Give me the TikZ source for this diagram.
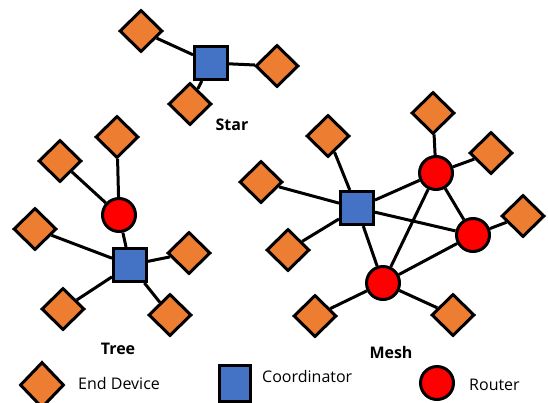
\documentclass[tikz,border=0pt]{standalone}
\usepackage{fontspec}
\setmainfont{Open Sans}
\usetikzlibrary{shapes.geometric}
\definecolor{devorange}{HTML}{ED7D31}
\definecolor{coordblue}{HTML}{4472C4}
\definecolor{routerred}{HTML}{FF0000}
\tikzset{
  enddev/.style={diamond, draw=black, fill=devorange, line width=3pt, minimum width=43pt, minimum height=42pt, inner sep=0pt},
  coord/.style={rectangle, draw=black, fill=coordblue, line width=3pt, minimum size=33pt, inner sep=0pt},
  router/.style={circle, draw=black, fill=routerred, line width=3pt, minimum size=33pt, inner sep=0pt},
  link/.style={line width=3pt, draw=black},
  title/.style={font=\fontsize{16}{18}\selectfont\bfseries, inner sep=0pt},
  legend/.style={font=\fontsize{16}{18}\selectfont, inner sep=0pt, anchor=west},
}
\begin{document}
\begin{tikzpicture}[x=1pt,y=-1pt]
\useasboundingbox (0,0) rectangle (548,402);
% Star
\node[coord] (sc) at (211,63) {};
\node[enddev] (s1) at (141,31) {};
\node[enddev] (s2) at (277,66) {};
\node[enddev] (s3) at (190,104) {};
\node[title] (stl) at (232,125) {Star};
% Tree
\node[coord] (tc) at (130,265) {};
\node[router] (tr) at (119,215) {};
\node[enddev] (t1) at (117,137) {};
\node[enddev] (t2) at (60,161) {};
\node[enddev] (t3) at (35,229) {};
\node[enddev] (t4) at (189,253) {};
\node[enddev] (t5) at (63,309) {};
\node[enddev] (t6) at (170,315) {};
\node[title] (ttl) at (118,349) {Tree};
% Mesh
\node[coord] (mc) at (357,208) {};
\node[router] (ma) at (436,173) {};
\node[router] (mb) at (473,235) {};
\node[router] (md) at (383,283) {};
\node[enddev] (m1) at (328,136) {};
\node[enddev] (m2) at (261,182) {};
\node[enddev] (m3) at (288,250) {};
\node[enddev] (m4) at (433,113) {};
\node[enddev] (m5) at (491,153) {};
\node[enddev] (m6) at (523,216) {};
\node[enddev] (m7) at (315,316) {};
\node[enddev] (m8) at (453,315) {};
\node[title] (mtl) at (391,352) {Mesh};
% links
\draw[link] (sc) -- (s1);
\draw[link] (sc) -- (s2);
\draw[link] (sc) -- (s3);
\draw[link] (tc) -- (tr);
\draw[link] (tr) -- (t1);
\draw[link] (tr) -- (t2);
\draw[link] (tc) -- (t3);
\draw[link] (tc) -- (t4);
\draw[link] (tc) -- (t5);
\draw[link] (tc) -- (t6);
\draw[link] (mc) -- (ma);
\draw[link] (mc) -- (mb);
\draw[link] (mc) -- (md);
\draw[link] (ma) -- (mb);
\draw[link] (ma) -- (md);
\draw[link] (mb) -- (md);
\draw[link] (mc) -- (m1);
\draw[link] (mc) -- (m2);
\draw[link] (mc) -- (m3);
\draw[link] (ma) -- (m4);
\draw[link] (ma) -- (m5);
\draw[link] (mb) -- (m6);
\draw[link] (md) -- (m7);
\draw[link] (md) -- (m8);
% Legend
\node[enddev, minimum width=44pt, minimum height=46pt] (ld) at (42,385) {};
\node[legend] (ldt) at (78,383) {End Device};
\node[coord, minimum width=31pt, minimum height=36pt] (lc) at (235,383) {};
\node[legend] (lct) at (262,376) {Coordinator};
\node[router] (lr) at (437,383) {};
\node[legend] (lrt) at (469,385) {Router};
\end{tikzpicture}
\end{document}
